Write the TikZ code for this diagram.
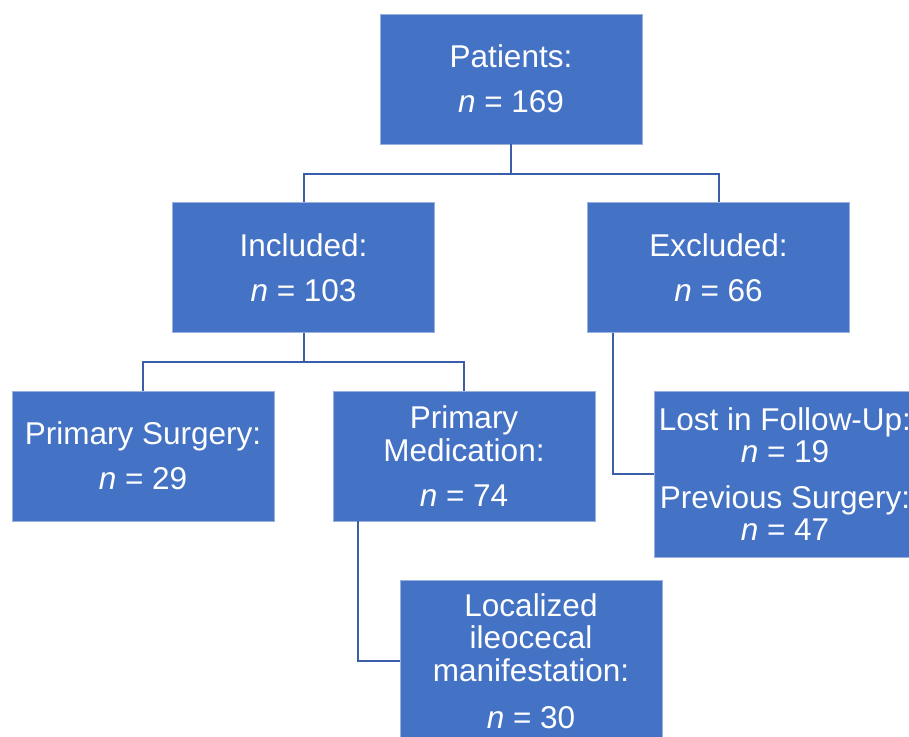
\documentclass[tikz,border=0pt]{standalone}
\usepackage{fontspec}
\setmainfont{Liberation Sans}
\usetikzlibrary{calc,positioning}
\definecolor{boxblue}{HTML}{4472C4}
\definecolor{linkblue}{RGB}{58,94,168}

\begin{document}
\begin{tikzpicture}[x=1pt,y=-1pt]
        \tikzset{
                basic/.style = {draw=boxblue!55!white, line width=0.8pt, fill=boxblue, text=white,
                                rectangle, align=center, inner sep=0pt,
                                font=\fontsize{31.5}{32.5}\selectfont,
                                minimum width=262pt, minimum height=130pt},
                tall/.style  = {basic, minimum height=166pt},
                link/.style  = {draw=linkblue, line width=2pt}
        }
        \useasboundingbox (0,0) rectangle (909,736);

        % root of the tree
        \node[basic] (pat) at (511,79) {Patients:\\[12.5pt]\textit{n} = 169};

        % first level
        \node[basic] (inc) at (303.5,267.5) {Included:\\[12.5pt]\textit{n} = 103};
        \node[basic] (exc) at (718.5,267.5) {Excluded:\\[12.5pt]\textit{n} = 66};

        % second level
        \node[basic] (ps) at (143,456) {Primary Surgery:\\[12.5pt]\textit{n} = 29};
        \node[basic] (pm) at (464,456) {Primary\\Medication:\\[12.5pt]\textit{n} = 74};
        \node[tall] (lost) at (785,474) {Lost in Follow-Up:\\\textit{n} = 19\\[13pt]Previous Surgery:\\\textit{n} = 47};

        % third level
        \node[tall, minimum height=162pt] (loc) at (531,661) {Localized\\ileocecal\\manifestation:\\[14.5pt]\textit{n} = 30};

        % forks from each node to its children
        \coordinate (fork1) at (511,173.5);
        \coordinate (fork2) at (303.5,362);

        \draw[link] (pat.south) -- (fork1);
        \foreach \child in {inc,exc}
        \draw[link] (fork1) -| (\child.north);

        \draw[link] (inc.south) -- (fork2);
        \foreach \child in {ps,pm}
        \draw[link] (fork2) -| (\child.north);

        % side branches
        \draw[link] ([xshift=26pt]exc.south west) |- (lost.west);
        \draw[link] ([xshift=25pt]pm.south west) |- (loc.west);

\end{tikzpicture}
\end{document}
